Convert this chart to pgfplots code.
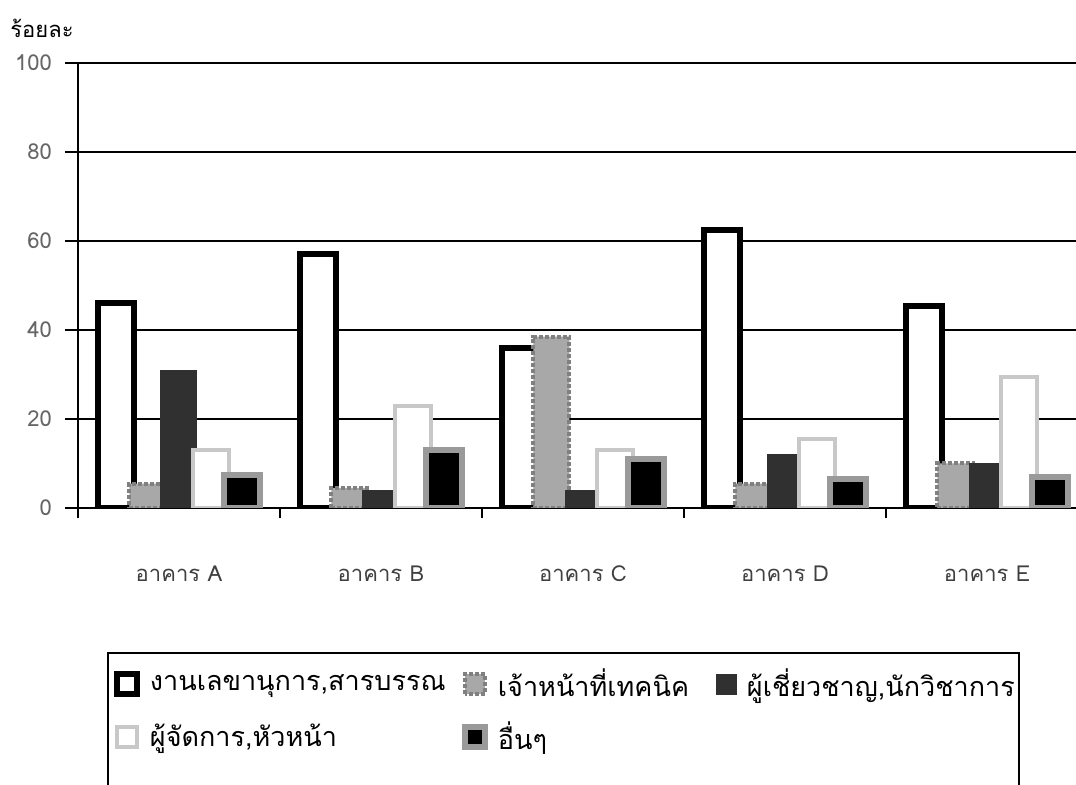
\documentclass[border=0pt]{standalone}
\usepackage{pgfplots}
\pgfplotsset{compat=1.18}
\usepackage{fontspec}
\setmainfont[Script=Thai]{Loma}
\definecolor{sgray}{HTML}{A8A8A8}
\definecolor{sgrayb}{HTML}{808080}
\definecolor{sdark}{HTML}{303030}
\definecolor{shatch}{HTML}{C8C8C8}
\definecolor{sborder5}{HTML}{9A9A9A}
\begin{document}
\begin{tikzpicture}
\begin{axis}[
  at={(0pt,0pt)}, anchor=south west,
  scale only axis, width=505pt, height=222.5pt,
  ybar=-2.2pt, bar width=18pt,
  xmin=-0.5, xmax=4.5, ymin=0, ymax=100,
  axis lines=left, axis line style={-, line width=1.4pt},
  tick align=outside,
  xtick={0,1,2,3,4},
  xticklabels={อาคาร A, อาคาร B, อาคาร C, อาคาร D, อาคาร E},
  minor xtick={-0.5,0.5,1.5,2.5,3.5,4.5},
  every major x tick/.append style={draw=none},
  minor tick length=5pt, major tick length=6.5pt,
  every tick/.append style={line width=1pt, black},
  ytick={0,20,40,60,80,100},
  ymajorgrids, grid style={line width=1pt, black},
  xticklabel style={font=\fontsize{11pt}{13pt}\selectfont, text=black!75, yshift=-19pt},
  yticklabel style={font=\fontsize{11pt}{13pt}\selectfont, text=black!60, xshift=-3pt},
  /pgf/number format/assume math mode=true,
  ylabel={ร้อยละ},
  ylabel style={rotate=-90, at={(axis description cs:-0.0673,1.058)}, anchor=base west, inner sep=0pt, font=\fontsize{11pt}{13pt}\selectfont},
  legend columns=3,
  legend image code/.code={\draw[#1] (0pt,-5pt) rectangle (10pt,5pt);},
  legend style={at={(axis description cs:0.0287,-0.3236)}, anchor=north west,
    draw=black, line width=1pt, inner xsep=3pt, inner ysep=6pt,
    font=\fontsize{13.5pt}{15pt}\selectfont, row sep=7pt,
    /tikz/every odd column/.append style={column sep=3pt},
    /tikz/every even column/.append style={column sep=3pt},
    legend cell align=left},
]
\addplot[fill=white, draw=black, line width=3pt] coordinates {(0,46) (1,57) (2,36) (3,62.5) (4,45.5)};
\addplot[fill=sgray, draw=sgrayb, line width=2pt, densely dotted] coordinates {(0,5.5) (1,4.5) (2,38.5) (3,5.5) (4,10)};
\addplot[fill=sdark, draw=sdark, line width=0.5pt] coordinates {(0,31) (1,4) (2,4) (3,12) (4,10)};
\addplot[fill=white, draw=shatch, line width=2pt] coordinates {(0,13) (1,23) (2,13) (3,15.5) (4,29.5)};
\addplot[fill=black, draw=sborder5, line width=3pt] coordinates {(0,7.5) (1,13) (2,11) (3,6.5) (4,7)};
\legend{\makebox[151pt][l]{งานเลขานุการ,สารบรรณ}, \makebox[104pt][l]{เจ้าหน้าที่เทคนิค}, \makebox[131pt][l]{ผู้เชี่ยวชาญ,นักวิชาการ}, ผู้จัดการ{,}หัวหน้า, อื่นๆ}
\addlegendimage{empty legend}\addlegendentry{}
\addlegendimage{empty legend}\addlegendentry{\strut}
\end{axis}
\pgfresetboundingbox
\path[use as bounding box] (-39pt,-138.5pt) rectangle (499pt,254pt);
\end{tikzpicture}
\end{document}
